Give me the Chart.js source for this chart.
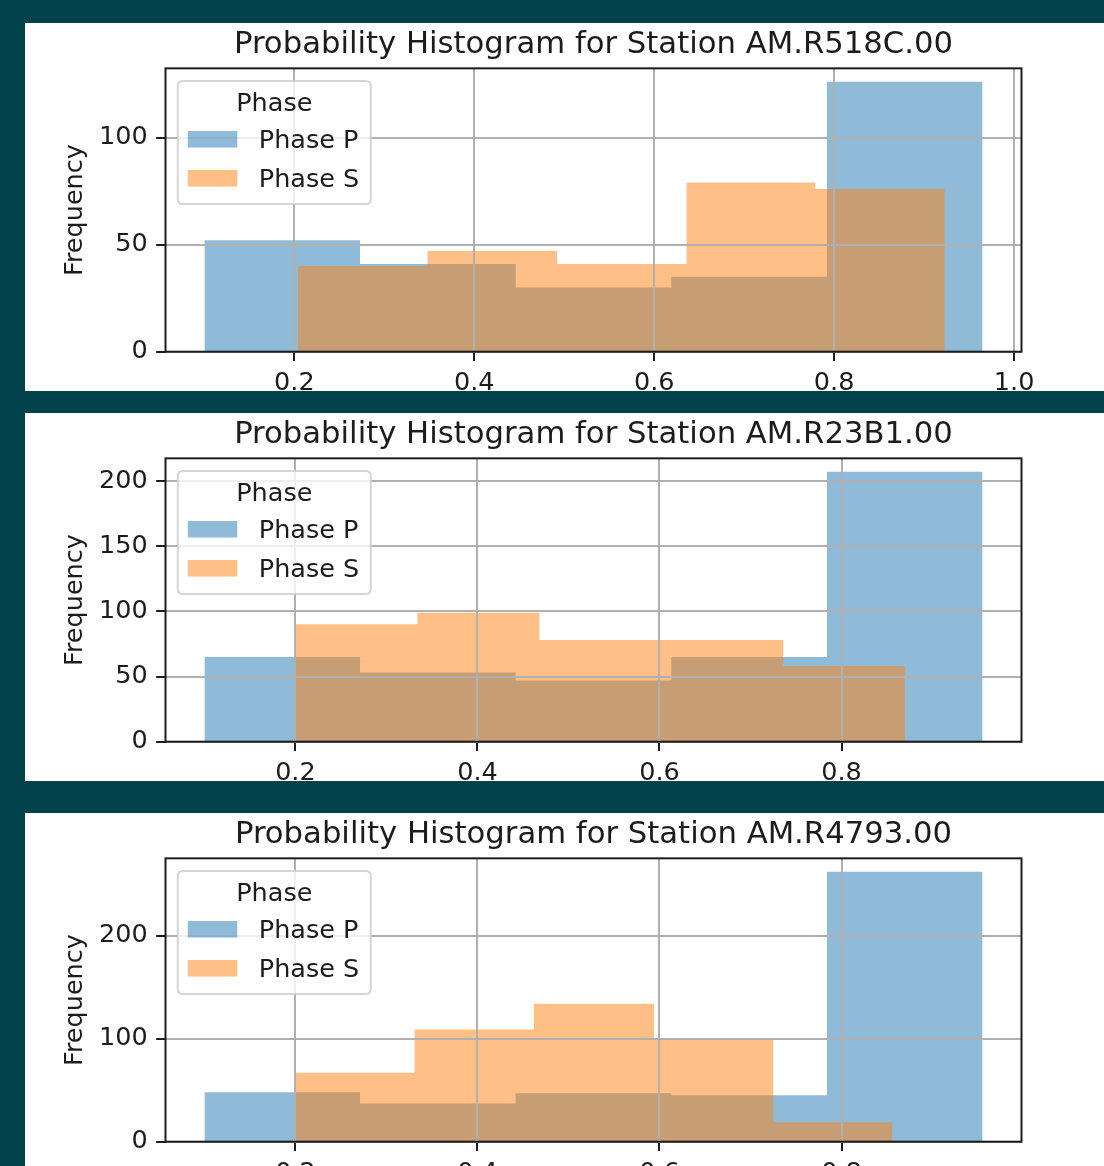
<!DOCTYPE html>
<html>
<head>
<meta charset="utf-8">
<script src="https://cdn.jsdelivr.net/npm/chart.js@4.4.0/dist/chart.umd.min.js"></script>
<style>
  html, body { margin: 0; padding: 0; }
  body {
    width: 1104px; height: 1166px; overflow: hidden; position: relative;
    background: #02424a;
    font-family: 'DejaVu Sans', sans-serif;
  }
  .panel { position: absolute; left: 25px; width: 1079px; background: #ffffff; }
  .panel canvas { display: block; }
</style>
</head>
<body>
<div class="panel" style="top:23px;height:368px"><canvas id="chart0" width="1079" height="368"></canvas></div>
<div class="panel" style="top:413px;height:368px"><canvas id="chart1" width="1079" height="368"></canvas></div>
<div class="panel" style="top:813px;height:353px"><canvas id="chart2" width="1079" height="353"></canvas></div>
<script>
// Station names shown in the panel titles
const stations = ['AM.R518C.00', 'AM.R23B1.00', 'AM.R4793.00'];
const phaseLabels = ['Phase P', 'Phase S'];

// AM.R518C.00 histogram bins (edges) and counts
const r518cEdgesP = [0.100, 0.273, 0.446, 0.619, 0.792, 0.965];
const r518cCountsP = [52, 41, 30, 35, 126];
const r518cEdgesS = [0.204, 0.348, 0.492, 0.636, 0.779, 0.923];
const r518cCountsS = [40, 47, 41, 79, 76];

// AM.R23B1.00
const r23b1EdgesP = [0.100, 0.271, 0.442, 0.613, 0.784, 0.955];
const r23b1CountsP = [65, 53, 47, 65, 207];
const r23b1EdgesS = [0.200, 0.334, 0.468, 0.602, 0.736, 0.870];
const r23b1CountsS = [90, 99, 78, 78, 58];

// AM.R4793.00
const r4793EdgesP = [0.100, 0.271, 0.442, 0.613, 0.784, 0.955];
const r4793CountsP = [48, 37, 47, 45, 262];
const r4793EdgesS = [0.200, 0.331, 0.462, 0.594, 0.725, 0.856];
const r4793CountsS = [67, 109, 134, 99, 19];

// Tick values
const xTickValues = [0.2, 0.4, 0.6, 0.8, 1.0];
const yTicksR518C = [0, 50, 100];
const yTicksR23B1 = [0, 50, 100, 150, 200];
const yTicksR4793 = [0, 100, 200];

const FONT = "'DejaVu Sans', sans-serif";
const INK = '#1c1c1c';
const GRID = '#b0b0b0';
const TICK_SIZE = 25.5;
const TITLE_SIZE = 30.7;
const COLOR_P = 'rgba(31, 119, 180, 0.5)';
const COLOR_S = 'rgba(255, 127, 14, 0.5)';

Chart.defaults.font.family = FONT;
Chart.defaults.color = INK;

// Histogram outline as step points: one point per bin edge, last count repeated
function stepPoints(edges, counts) {
  return edges.map((e, i) => ({ x: e, y: counts[Math.min(i, counts.length - 1)] }));
}

// Black box around the plotting area
const axesFrame = {
  id: 'axesFrame',
  afterDraw(chart) {
    const { ctx, chartArea: a } = chart;
    ctx.save();
    ctx.strokeStyle = INK;
    ctx.lineWidth = 2;
    ctx.strokeRect(a.left, a.top, a.right - a.left, a.bottom - a.top);
    ctx.restore();
  }
};

// Legend box with a title, placed in the upper-left corner of the plot
const phaseLegend = {
  id: 'phaseLegend',
  afterDraw(chart, args, opts) {
    const { ctx, chartArea: a } = chart;
    const x = a.left + 12.3, y = a.top + 12.7, w = 193, h = 123, r = 5;
    ctx.save();
    ctx.beginPath();
    ctx.moveTo(x + r, y);
    ctx.lineTo(x + w - r, y);
    ctx.quadraticCurveTo(x + w, y, x + w, y + r);
    ctx.lineTo(x + w, y + h - r);
    ctx.quadraticCurveTo(x + w, y + h, x + w - r, y + h);
    ctx.lineTo(x + r, y + h);
    ctx.quadraticCurveTo(x, y + h, x, y + h - r);
    ctx.lineTo(x, y + r);
    ctx.quadraticCurveTo(x, y, x + r, y);
    ctx.closePath();
    ctx.fillStyle = 'rgba(255,255,255,0.8)';
    ctx.fill();
    ctx.strokeStyle = 'rgba(204,204,204,0.8)';
    ctx.lineWidth = 2;
    ctx.stroke();

    ctx.font = TICK_SIZE + 'px ' + FONT;
    ctx.fillStyle = INK;
    ctx.textBaseline = 'middle';
    ctx.textAlign = 'center';
    ctx.fillText(opts.title, x + w / 2, y + 23.5);

    ctx.textAlign = 'left';
    chart.data.datasets.forEach((ds, i) => {
      const rowY = y + 58.5 + i * 39;
      ctx.fillStyle = ds.backgroundColor;
      ctx.fillRect(x + 10, rowY - 8.5, 49.5, 16.5);
      ctx.fillStyle = INK;
      ctx.fillText(ds.label, x + 81, rowY + 1.5);
    });
    ctx.restore();
  }
};

function tickOptions(padding, fmt) {
  return {
    padding: padding,
    color: INK,
    font: { family: FONT, size: TICK_SIZE },
    maxRotation: 0,
    autoSkip: false,
    callback: fmt
  };
}

function gridOptions() {
  return {
    color: GRID,
    lineWidth: 2,
    z: 1,
    drawTicks: true,
    tickLength: 9.3,
    tickWidth: 2,
    tickColor: INK
  };
}

function makeChart(canvasId, station, edgesP, countsP, edgesS, countsS, yTicks, xAxisHeight) {
  const lo = Math.min(edgesP[0], edgesS[0]);
  const hi = Math.max(edgesP[edgesP.length - 1], edgesS[edgesS.length - 1]);
  const margin = 0.05 * (hi - lo);
  const yMax = 1.05 * Math.max(...countsP, ...countsS);

  return new Chart(document.getElementById(canvasId), {
    type: 'line',
    data: {
      datasets: [
        {
          label: phaseLabels[0],
          data: stepPoints(edgesP, countsP),
          stepped: 'before',
          fill: 'origin',
          backgroundColor: COLOR_P,
          borderColor: 'rgba(0,0,0,0)',
          borderWidth: 0,
          pointRadius: 0,
          pointHoverRadius: 0,
          order: 2
        },
        {
          label: phaseLabels[1],
          data: stepPoints(edgesS, countsS),
          stepped: 'before',
          fill: 'origin',
          backgroundColor: COLOR_S,
          borderColor: 'rgba(0,0,0,0)',
          borderWidth: 0,
          pointRadius: 0,
          pointHoverRadius: 0,
          order: 1
        }
      ]
    },
    options: {
      responsive: false,
      animation: false,
      devicePixelRatio: 1,
      events: [],
      layout: { padding: { left: 0, right: 82.5, top: 0, bottom: 0 } },
      scales: {
        x: {
          type: 'linear',
          min: lo - margin,
          max: hi + margin,
          afterBuildTicks(scale) {
            scale.ticks = xTickValues
              .filter(v => v >= scale.min - 1e-9 && v <= scale.max + 1e-9)
              .map(v => ({ value: v }));
          },
          afterFit(scale) { scale.height = xAxisHeight; },
          grid: gridOptions(),
          border: { display: false },
          ticks: tickOptions(7, v => Number(v).toFixed(1))
        },
        y: {
          type: 'linear',
          min: 0,
          max: yMax,
          afterBuildTicks(scale) {
            scale.ticks = yTicks.map(v => ({ value: v }));
          },
          afterFit(scale) { scale.width = 140.5; },
          grid: gridOptions(),
          border: { display: false },
          ticks: tickOptions(8.5, v => String(Math.round(v))),
          title: {
            display: true,
            text: 'Frequency',
            color: INK,
            font: { family: FONT, size: TICK_SIZE },
            padding: { top: 35, bottom: 0 }
          }
        }
      },
      plugins: {
        legend: { display: false },
        tooltip: { enabled: false },
        title: {
          display: true,
          text: 'Probability Histogram for Station ' + station,
          color: INK,
          fullSize: false,
          font: { family: FONT, size: TITLE_SIZE, weight: 'normal' },
          padding: { top: 3.5, bottom: 5 }
        },
        phaseLegend: { title: 'Phase' }
      }
    },
    plugins: [axesFrame, phaseLegend]
  });
}

makeChart('chart0', stations[0], r518cEdgesP, r518cCountsP, r518cEdgesS, r518cCountsS, yTicksR518C, 39.3);
makeChart('chart1', stations[1], r23b1EdgesP, r23b1CountsP, r23b1EdgesS, r23b1CountsS, yTicksR23B1, 39.3);
makeChart('chart2', stations[2], r4793EdgesP, r4793CountsP, r4793EdgesS, r4793CountsS, yTicksR4793, 24.3);
</script>
</body>
</html>
